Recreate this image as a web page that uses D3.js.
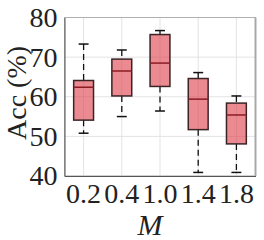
<!DOCTYPE html>
<html>
<head>
<meta charset="utf-8">
<script src="https://cdn.jsdelivr.net/npm/d3@7"></script>
<style>
  body { margin: 0; background: #fff; }
  svg text { font-family: "Liberation Serif", serif; }
</style>
</head>
<body>
<script>
// Data
const categories = ["0.2", "0.4", "1.0", "1.4", "1.8"];
const whiskerLow  = [50.8, 55.0, 56.4, 40.9, 40.9];
const q1          = [54.1, 60.2, 62.6, 51.7, 48.1];
const median      = [62.4, 66.5, 68.5, 59.4, 55.4];
const q3          = [64.1, 69.5, 75.7, 64.6, 58.4];
const whiskerHigh = [73.3, 71.8, 76.7, 66.1, 60.2];
const yTicks = [40, 50, 60, 70, 80];

const data = categories.map((c, i) => ({
    cat: c, lo: whiskerLow[i], q1: q1[i], med: median[i], q3: q3[i], hi: whiskerHigh[i]
}));

const margin = { top: 17.5, right: 8.5, bottom: 64, left: 64.5 };
const W = 264, H = 240;
const width = W - margin.left - margin.right;
const height = H - margin.top - margin.bottom;

const svg = d3.select("body").append("svg")
    .attr("width", W)
    .attr("height", H);

const g = svg.append("g")
    .attr("transform", `translate(${margin.left},${margin.top})`);

const x = d3.scaleBand().domain(categories).range([0, width]);
const y = d3.scaleLinear().domain([40, 80]).range([height, 0]);

// grid
g.selectAll(".hgrid").data(yTicks).enter().append("line")
    .attr("x1", 0).attr("x2", width)
    .attr("y1", d => y(d)).attr("y2", d => y(d))
    .attr("stroke", "#e3e3e3").attr("stroke-width", 1);
g.selectAll(".vgrid").data(categories).enter().append("line")
    .attr("x1", d => x(d) + x.bandwidth() / 2).attr("x2", d => x(d) + x.bandwidth() / 2)
    .attr("y1", 0).attr("y2", height)
    .attr("stroke", "#e3e3e3").attr("stroke-width", 1);

// boxes
const boxW = x.bandwidth() * 0.52;
const capW = boxW / 2;
const box = g.selectAll(".box").data(data).enter().append("g")
    .attr("transform", d => `translate(${x(d.cat) + x.bandwidth() / 2},0)`);

box.append("line")
    .attr("y1", d => y(d.hi)).attr("y2", d => y(d.q3))
    .attr("stroke", "#111").attr("stroke-width", 1.3).attr("stroke-dasharray", "6,4");
box.append("line")
    .attr("y1", d => y(d.q1)).attr("y2", d => y(d.lo))
    .attr("stroke", "#111").attr("stroke-width", 1.3).attr("stroke-dasharray", "6,4");
box.append("line")
    .attr("x1", -capW / 2).attr("x2", capW / 2)
    .attr("y1", d => y(d.hi)).attr("y2", d => y(d.hi))
    .attr("stroke", "#111").attr("stroke-width", 1.5);
box.append("line")
    .attr("x1", -capW / 2).attr("x2", capW / 2)
    .attr("y1", d => y(d.lo)).attr("y2", d => y(d.lo))
    .attr("stroke", "#111").attr("stroke-width", 1.5);
box.append("rect")
    .attr("x", -boxW / 2).attr("width", boxW)
    .attr("y", d => y(d.q3)).attr("height", d => y(d.q1) - y(d.q3))
    .attr("fill", "rgb(222,60,72)").attr("fill-opacity", 0.6)
    .attr("stroke", "#3a2426").attr("stroke-width", 1.5);
box.append("line")
    .attr("x1", -boxW / 2).attr("x2", boxW / 2)
    .attr("y1", d => y(d.med)).attr("y2", d => y(d.med))
    .attr("stroke", "#8a1c22").attr("stroke-width", 1.5);

// frame
g.append("rect")
    .attr("width", width).attr("height", height)
    .attr("fill", "none").attr("stroke", "#b0b0b0").attr("stroke-width", 1);
g.append("line").attr("x1", width).attr("x2", width).attr("y1", 0).attr("y2", height)
    .attr("stroke", "#a8a8a8").attr("stroke-width", 2);

// axes
const yAxis = g.append("g")
    .call(d3.axisLeft(y).tickValues(yTicks).tickSize(0).tickPadding(7));
yAxis.select(".domain").attr("stroke", "#555");
yAxis.selectAll("text").attr("font-size", 28).attr("fill", "#222")
    .attr("font-family", "Liberation Serif");

const xAxis = g.append("g")
    .attr("transform", `translate(0,${height})`)
    .call(d3.axisBottom(x).tickSize(0).tickPadding(7));
xAxis.select(".domain").attr("stroke", "#555");
xAxis.selectAll("text").attr("font-size", 28).attr("fill", "#222")
    .attr("font-family", "Liberation Serif");

// labels
svg.append("text")
    .attr("x", 150).attr("y", 235)
    .attr("text-anchor", "middle")
    .attr("font-size", 30).attr("font-style", "italic").attr("fill", "#222")
    .text("M");

svg.append("text")
    .attr("transform", "translate(26,140) rotate(-90)")
    .attr("text-anchor", "start")
    .attr("font-size", 28).attr("fill", "#222")
    .text("Acc (%)");
</script>
</body>
</html>
